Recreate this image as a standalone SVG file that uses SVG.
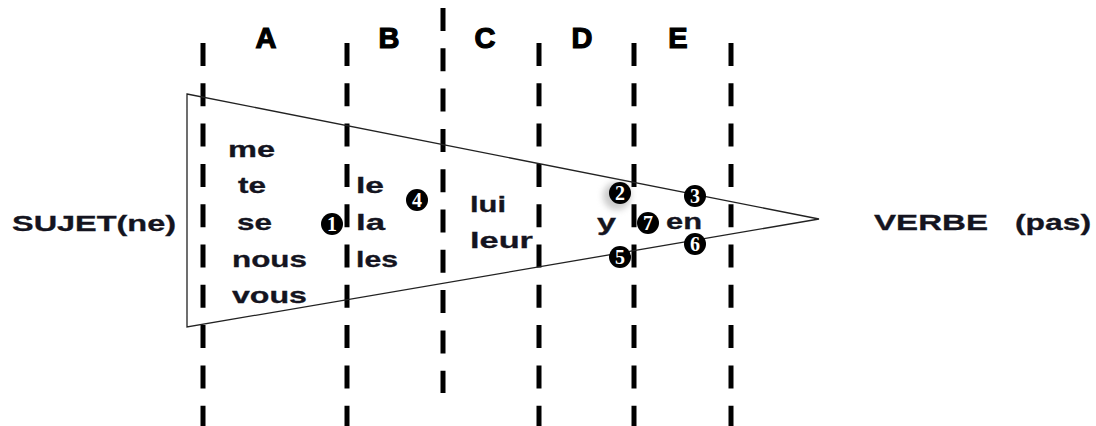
<svg xmlns="http://www.w3.org/2000/svg" width="1096" height="426" viewBox="0 0 1096 426">
<style>
.col{stroke:#000;stroke-width:5;stroke-dasharray:23 17.3;fill:none}
.tri{fill:none;stroke:#222;stroke-width:1.3}
.hd{font-family:"Liberation Sans",Arial,sans-serif;font-weight:bold;font-size:29px;fill:#000;stroke:#000;stroke-width:1.2;text-anchor:middle}
.w{font-family:"Liberation Sans",Arial,sans-serif;font-weight:bold;font-size:22px;fill:#141420;stroke:#141420;stroke-width:0.3}
.dot{fill:#000}
.num{font-family:"Liberation Serif","Times New Roman",serif;font-weight:bold;font-size:20px;fill:#fff;text-anchor:middle}
</style>
<defs>
<filter id="glow" x="-50%" y="-50%" width="200%" height="200%"><feGaussianBlur stdDeviation="3"/></filter>
</defs>
<rect width="1096" height="426" fill="#fff"/>
<g id="columns">
<line class="col" x1="203" y1="43" x2="203" y2="426"/>
<line class="col" x1="347" y1="43" x2="347" y2="426"/>
<line class="col" x1="443" y1="8" x2="443" y2="393"/>
<line class="col" x1="539" y1="43" x2="539" y2="426"/>
<line class="col" x1="634" y1="43" x2="634" y2="426"/>
<line class="col" x1="731" y1="43" x2="731" y2="426"/>
</g>
<g id="headers">
<text class="hd" x="266" y="48">A</text>
<text class="hd" x="389" y="48">B</text>
<text class="hd" x="485" y="48">C</text>
<text class="hd" x="582" y="48">D</text>
<text class="hd" x="678" y="48">E</text>
</g>
<g id="triangle">
<polygon class="tri" points="187,94 819,219 187,327"/>
</g>
<g id="sujet"><text class="w" x="12" y="231" textLength="164" lengthAdjust="spacingAndGlyphs">SUJET(ne)</text></g>
<g id="verbe"><text class="w" y="230"><tspan x="874" textLength="114" lengthAdjust="spacingAndGlyphs">VERBE</tspan><tspan x="1015" textLength="76" lengthAdjust="spacingAndGlyphs">(pas)</tspan></text></g>
<g id="colA">
<text class="w" x="228" y="157" textLength="47" lengthAdjust="spacingAndGlyphs">me</text>
<text class="w" x="238" y="193" textLength="28" lengthAdjust="spacingAndGlyphs">te</text>
<text class="w" x="237" y="230" textLength="35" lengthAdjust="spacingAndGlyphs">se</text>
<text class="w" x="232" y="267" textLength="75" lengthAdjust="spacingAndGlyphs">nous</text>
<text class="w" x="232" y="303" textLength="75" lengthAdjust="spacingAndGlyphs">vous</text>
</g>
<g id="colB">
<text class="w" x="356" y="193" textLength="28" lengthAdjust="spacingAndGlyphs">le</text>
<text class="w" x="356" y="230" textLength="29" lengthAdjust="spacingAndGlyphs">la</text>
<text class="w" x="356" y="267" textLength="42" lengthAdjust="spacingAndGlyphs">les</text>
</g>
<g id="colC">
<text class="w" x="470" y="212" textLength="36" lengthAdjust="spacingAndGlyphs">lui</text>
<text class="w" x="470" y="248" textLength="63" lengthAdjust="spacingAndGlyphs">leur</text>
</g>
<g id="colD"><text class="w" x="597" y="230" textLength="19" lengthAdjust="spacingAndGlyphs">y</text></g>
<g id="colE"><text class="w" x="666" y="229" textLength="36" lengthAdjust="spacingAndGlyphs">en</text></g>
<g id="markers">
<g id="m1"><circle class="dot" cx="332" cy="224" r="11"/><text class="num" x="332" y="231">1</text></g>
<g id="m2"><circle cx="617" cy="196" r="14" fill="#999" opacity="0.5" filter="url(#glow)"/><circle class="dot" cx="620" cy="193" r="11"/><text class="num" x="620" y="200">2</text></g>
<g id="m3"><circle class="dot" cx="695" cy="196" r="11"/><text class="num" x="695" y="203">3</text></g>
<g id="m4"><circle class="dot" cx="417" cy="200" r="11"/><text class="num" x="417" y="207">4</text></g>
<g id="m5"><circle class="dot" cx="620" cy="257" r="11"/><text class="num" x="620" y="264">5</text></g>
<g id="m6"><circle class="dot" cx="695" cy="244" r="11"/><text class="num" x="695" y="251">6</text></g>
<g id="m7"><circle class="dot" cx="648" cy="223" r="11"/><text class="num" x="648" y="230">7</text></g>
</g>
</svg>
